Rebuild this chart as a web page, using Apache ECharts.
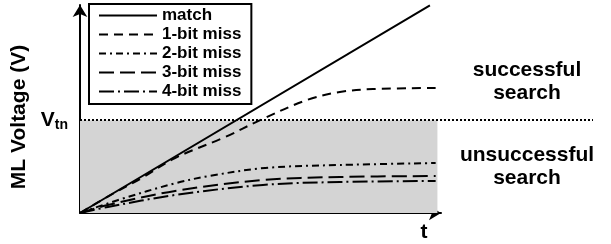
<!DOCTYPE html>
<html>
<head>
<meta charset="utf-8">
<script src="https://cdn.jsdelivr.net/npm/echarts@6/dist/echarts.min.js"></script>
<style>
  html, body { margin: 0; padding: 0; background: #fff; }
  #chart { width: 611px; height: 244px; }
</style>
</head>
<body>
<div id="chart"></div>
<script>
// time axis runs 0..101 (arbitrary units), voltage 0..2.24 with Vtn = 1
const seriesNames = ["match", "1-bit miss", "2-bit miss", "3-bit miss", "4-bit miss"];
const matchCurve = [[0, 0], [97.9, 2.237]];
const miss1Curve = [[0, 0], [8.4, 0.19], [17.3, 0.377], [26.6, 0.592], [40.6, 0.818], [50.4, 1.0], [63.5, 1.217], [72.7, 1.303], [82.0, 1.335], [99.5, 1.346]];
const miss2Curve = [[0, 0], [10.7, 0.14], [26.6, 0.32], [36.4, 0.4], [51.8, 0.485], [72.7, 0.517], [99.5, 0.538]];
const miss3Curve = [[0, 0], [7.8, 0.086], [26.6, 0.237], [51.2, 0.355], [72.7, 0.388], [99.5, 0.398]];
const miss4Curve = [[0, 0], [7.8, 0.065], [26.6, 0.194], [51.2, 0.302], [72.7, 0.334], [99.5, 0.345]];
const vtn = 1;
const shadeEnd = 100;
const tMax = 101;
const vMax = 2.24;

const font = "'Liberation Sans', Arial, sans-serif";
const dashes = ["solid", [9, 6], [7, 4, 2, 4], [15, 6], [15, 4, 2, 4]];
const curves = [matchCurve, miss1Curve, miss2Curve, miss3Curve, miss4Curve];

const chart = echarts.init(document.getElementById("chart"));
chart.setOption({
  animation: false,
  grid: [
    { left: 80, right: 170, top: 5, bottom: 31 },
    { left: 80, right: 18, top: 5, bottom: 31 },
  ],
  xAxis: [
    {
      type: "value", gridIndex: 0, min: 0, max: tMax,
      name: "t", nameLocation: "end", nameGap: -17,
      nameTextStyle: { fontFamily: font, fontWeight: "bold", fontSize: 21, color: "#000", align: "center", verticalAlign: "top", padding: [9, 0, 0, 0] },
      axisLine: { lineStyle: { color: "#000", width: 2 }, symbol: ["none", "arrow"], symbolSize: [11, 12] },
      axisTick: { show: false }, axisLabel: { show: false }, splitLine: { show: false },
    },
    { type: "value", gridIndex: 1, min: 0, max: 1, show: false },
  ],
  yAxis: [
    {
      type: "value", gridIndex: 0, min: 0, max: vMax, interval: vtn,
      name: "ML Voltage (V)", nameLocation: "middle", nameGap: 49,
      nameTextStyle: { fontFamily: font, fontWeight: "bold", fontSize: 21, color: "#000", padding: [0, 16, 0, 0] },
      axisLine: { lineStyle: { color: "#000", width: 2 }, symbol: ["none", "arrow"], symbolSize: [11, 12] },
      axisTick: { show: false }, splitLine: { show: false },
      axisLabel: {
        margin: 12,
        formatter: (v) => (v === vtn ? "{v|V}{s|tn}" : ""),
        rich: {
          v: { fontFamily: font, fontWeight: "bold", fontSize: 21, color: "#000", lineHeight: 24 },
          s: { fontFamily: font, fontWeight: "bold", fontSize: 14, color: "#000", lineHeight: 24, verticalAlign: "bottom", padding: [7, 0, 0, 0] },
        },
      },
    },
    { type: "value", gridIndex: 1, min: 0, max: vMax, show: false },
  ],
  legend: {
    orient: "vertical", left: 89, top: 4,
    padding: [2, 10, 3, 9], itemGap: 0, itemWidth: 58, itemHeight: 14,
    borderColor: "#000", borderWidth: 2, backgroundColor: "#fff",
    itemStyle: { opacity: 0, borderWidth: 0 },
    textStyle: { fontFamily: font, fontWeight: "bold", fontSize: 17, color: "#000", lineHeight: 19 },
    data: seriesNames,
  },
  graphic: [
    { type: "text", x: 527, y: 59, style: { text: "successful\nsearch", fontFamily: font, fontWeight: "bold", fontSize: 21, lineHeight: 23, fill: "#000", align: "center" } },
    { type: "text", x: 527, y: 144, style: { text: "unsuccessful\nsearch", fontFamily: font, fontWeight: "bold", fontSize: 21, lineHeight: 23, fill: "#000", align: "center" } },
  ],
  series: [
    ...curves.map((data, i) => ({
      name: seriesNames[i], type: "line", xAxisIndex: 0, yAxisIndex: 0,
      data, smooth: i === 0 ? false : 0.35, symbol: "none",
      lineStyle: { color: "#000", width: 2, type: dashes[i] },
      itemStyle: { color: "#000" },
      z: 3,
      markArea: i === 0 ? {
        silent: true,
        itemStyle: { color: "#d4d4d4" },
        data: [[{ xAxis: 0, yAxis: 0 }, { xAxis: shadeEnd, yAxis: vtn }]],
      } : undefined,
    })),
    {
      name: "vtn", type: "line", xAxisIndex: 1, yAxisIndex: 1, data: [], z: 4,
      markLine: {
        silent: true, symbol: "none", label: { show: false },
        lineStyle: { color: "#000", width: 2, type: [2, 2] },
        data: [{ yAxis: vtn }],
      },
    },
  ],
});
</script>
</body>
</html>
